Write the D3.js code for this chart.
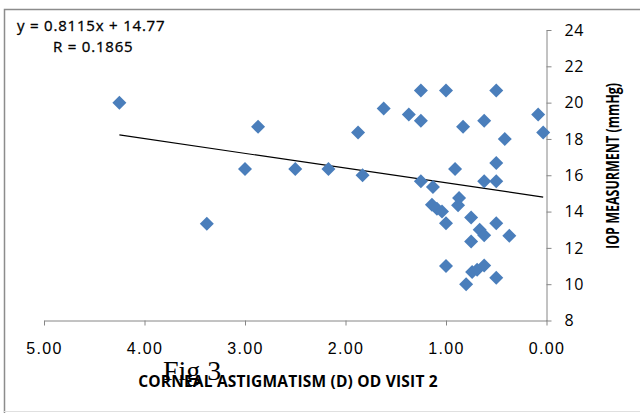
<!DOCTYPE html>
<html>
<head>
<meta charset="utf-8">
<script src="https://cdn.jsdelivr.net/npm/d3@7"></script>
<style>
  body { margin: 0; background: #fff; }
  svg { display: block; }
  .lbl { font-family: "Open Sans", sans-serif; fill: #000; }
</style>
</head>
<body>
<svg width="640" height="413"></svg>
<script>
const svg = d3.select("svg");

// corneal astigmatism (D) and IOP (mmHg)
const astig = [4.25, 3.38, 3.00, 2.87, 2.50, 2.17, 1.875, 1.83, 1.62, 1.37,
  1.25, 1.25, 1.25, 1.13, 1.14, 1.09, 1.04, 1.00, 1.00, 1.00,
  0.91, 0.87, 0.88, 0.83, 0.80, 0.75, 0.75, 0.74, 0.69, 0.665,
  0.62, 0.62, 0.62, 0.62, 0.50, 0.50, 0.50, 0.50, 0.50, 0.415,
  0.37, 0.083, 0.033];
const iop = [20.0, 13.33, 16.35, 18.67, 16.35, 16.35, 18.36, 16.0, 19.68, 19.35,
  20.67, 19.0, 15.67, 15.35, 14.38, 14.16, 14.0, 20.67, 13.35, 11.0,
  16.35, 14.75, 14.35, 18.67, 10.0, 13.67, 12.35, 10.67, 10.8, 13.0,
  12.69, 19.0, 15.67, 11.03, 20.67, 16.67, 15.67, 13.35, 10.35, 18.0,
  12.67, 19.35, 18.35];

const xTicks = [5, 4, 3, 2, 1, 0];
const yTicks = [8, 10, 12, 14, 16, 18, 20, 22, 24];
const slope = 0.8115, intercept = 14.77;
const eqText = "y = 0.8115x + 14.77";
const rText = "R = 0.1865";

const points = astig.map((a, i) => ({ x: a, y: iop[i] }));

const x = d3.scaleLinear().domain([5, 0]).range([44, 546.5]);
const y = d3.scaleLinear().domain([8, 24]).range([320.5, 30]);

// frame
svg.append("path")
  .attr("d", "M4.5,413V9.5H640")
  .attr("fill", "none")
  .attr("stroke", "#8c8c8c")
  .attr("stroke-width", 1.5);
svg.append("line")
  .attr("x1", 4).attr("x2", 640).attr("y1", 411.5).attr("y2", 411.5)
  .attr("stroke", "#e0e0e0");

// axes
const gx = svg.append("g")
  .attr("transform", `translate(0,${y(8)})`)
  .call(d3.axisBottom(x).tickValues(xTicks).tickSize(5).tickSizeOuter(0)
    .tickFormat(d3.format(".2f")));
gx.selectAll("text")
  .attr("font-family", "'Liberation Sans', Arial, sans-serif")
  .attr("font-size", 16).attr("letter-spacing", 1.3)
  .attr("dy", null).attr("y", 33).attr("fill", "#000");

const gy = svg.append("g")
  .attr("transform", `translate(${x(0)},0)`)
  .call(d3.axisRight(y).tickValues(yTicks).tickSize(5).tickSizeOuter(0));
gy.selectAll("text")
  .attr("font-family", "'Open Sans', sans-serif")
  .attr("font-size", 16).attr("letter-spacing", 0.5)
  .attr("x", 18).attr("fill", "#000");

svg.selectAll(".domain, .tick line").attr("stroke", "#868686");

// trendline over data range
const ext = d3.extent(astig);
svg.append("line")
  .attr("x1", x(ext[0])).attr("y1", y(slope * ext[0] + intercept))
  .attr("x2", x(ext[1])).attr("y2", y(slope * ext[1] + intercept))
  .attr("stroke", "#000").attr("stroke-width", 1.2);

// markers
svg.selectAll("path.pt")
  .data(points)
  .enter()
  .append("path")
  .attr("class", "pt")
  .attr("d", "M0,-7L7,0L0,7L-7,0Z")
  .attr("transform", d => `translate(${x(d.x)},${y(d.y)})`)
  .attr("fill", "#4a7ebb");

// equation
svg.append("text").attr("class", "lbl")
  .attr("x", 17).attr("y", 31)
  .attr("font-size", 15).attr("letter-spacing", 0.8)
  .attr("stroke", "#000").attr("stroke-width", 0.3)
  .text(eqText);
svg.append("text").attr("class", "lbl")
  .attr("x", 53).attr("y", 52)
  .attr("font-size", 15).attr("letter-spacing", 0.8)
  .attr("stroke", "#000").attr("stroke-width", 0.3)
  .text(rText);

// axis titles
svg.append("text").attr("class", "lbl")
  .attr("x", 288).attr("y", 387)
  .attr("text-anchor", "middle")
  .attr("font-size", 15.5).attr("font-weight", "bold").attr("letter-spacing", 0.2)
  .text("CORNEAL ASTIGMATISM (D) OD VISIT 2");

svg.append("text").attr("class", "lbl")
  .attr("transform", "translate(619,166) rotate(-90)")
  .attr("text-anchor", "middle")
  .attr("font-size", 17.5).attr("font-weight", "bold")
  .attr("textLength", 166).attr("lengthAdjust", "spacingAndGlyphs")
  .text("IOP MEASURMENT (mmHg)");

svg.append("text")
  .attr("x", 163).attr("y", 380)
  .attr("font-family", "'Liberation Serif', 'Times New Roman', serif")
  .attr("font-size", 28)
  .text("Fig 3");
</script>
</body>
</html>
